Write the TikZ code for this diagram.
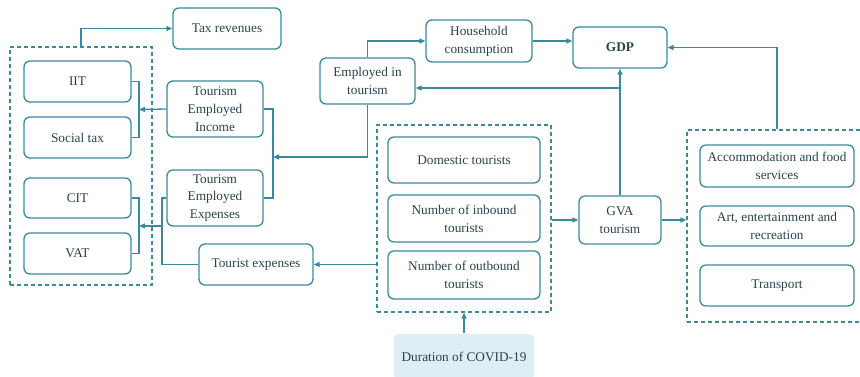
\documentclass[tikz,border=0pt]{standalone}
\usepackage{fontspec}
\setmainfont{Liberation Serif}
\usepackage{xcolor}
\usetikzlibrary{arrows.meta,positioning}
\definecolor{lineteal}{RGB}{58,138,158}
\definecolor{inkslate}{RGB}{40,66,76}
\definecolor{covidfill}{RGB}{221,238,244}

\begin{document}
\begin{tikzpicture}[x=1pt, y=-1pt,
  box/.style={draw=lineteal, line width=1.3pt, rounded corners=6pt, align=center,
              font=\fontsize{13.3}{17.8}\selectfont, text=inkslate, inner sep=2pt},
  grp/.style={draw=lineteal, line width=1.2pt, dash pattern=on 4pt off 3pt},
  line/.style={draw=lineteal, line width=1.3pt},
  arr/.style={line, -{Triangle[length=6pt,width=5pt]}}
]
  \useasboundingbox (0,0) rectangle (860,376);
  % taxes
  \node[grp, minimum width=142pt, minimum height=238pt] (lgrp) at (81,166) {};
  \node[box, minimum width=108pt, minimum height=41pt] (tax) at (227,28.5) {Tax revenues};
  \node[box, minimum width=107pt, minimum height=41pt] (iit) at (77.5,81.5) {IIT};
  \node[box, minimum width=107pt, minimum height=41pt] (soc) at (77.5,137.5) {Social tax};
  \node[box, minimum width=107pt, minimum height=40pt] (cit) at (77.5,198) {CIT};
  \node[box, minimum width=107pt, minimum height=41pt] (vat) at (77.5,253.5) {VAT};
  % employment and expenses
  \node[box, minimum width=96pt, minimum height=56pt] (tei) at (215,109) {Tourism\\Employed\\Income};
  \node[box, minimum width=96pt, minimum height=56pt] (tee) at (215,198) {Tourism\\Employed\\Expenses};
  \node[box, minimum width=114pt, minimum height=41pt] (texp) at (256,264.5) {Tourist expenses};
  \node[box, minimum width=95pt, minimum height=46pt] (eit) at (367.5,81) {Employed in\\tourism};
  \node[box, minimum width=106pt, minimum height=42pt] (hc) at (479,41) {Household\\consumption};
  \node[box, minimum width=94pt, minimum height=41pt, font=\fontsize{13.3}{17.8}\selectfont\bfseries] (gdp) at (620,47.5) {GDP};
  % tourist flows
  \node[grp, minimum width=174pt, minimum height=187pt] (mgrp) at (464,218.5) {};
  \node[box, minimum width=152pt, minimum height=46pt] (dom) at (464,160) {Domestic tourists};
  \node[box, minimum width=152pt, minimum height=47pt] (inb) at (464,218.5) {Number of inbound\\tourists};
  \node[box, minimum width=152pt, minimum height=48pt] (outb) at (464,275) {Number of outbound\\tourists};
  \node[box, draw=none, fill=covidfill, minimum width=140pt, minimum height=46pt] (covid) at (464,357) {Duration of COVID-19};
  \node[box, minimum width=82pt, minimum height=48pt] (gva) at (620,220) {GVA\\tourism};
  % sectors
  \node[grp, minimum width=190pt, minimum height=192pt] (rgrp) at (782,226) {};
  \node[box, minimum width=154pt, minimum height=42pt] (acc) at (777,166) {Accommodation and food\\services};
  \node[box, minimum width=154pt, minimum height=40pt] (art) at (777,226) {Art, entertainment and\\recreation};
  \node[box, minimum width=154pt, minimum height=41pt] (trn) at (777,285.5) {Transport};
  % bracket points
  \coordinate (b1) at (139,109.5);
  \coordinate (b2) at (139,226);
  \coordinate (b3) at (162,226);
  \coordinate (b4) at (273,157);
  \coordinate (j1) at (620,88);
  % connectors
  \draw[arr] (lgrp.north) |- (tax.west);
  \draw[line] (iit.east) -| (b1) |- (soc.east);
  \draw[line] (cit.east) -| (b2) |- (vat.east);
  \draw[arr] (tei.west) -- (b1);
  \draw[line] (tee.west) -| (b3) |- (texp.west);
  \draw[arr] (b3) -- (b2);
  \draw[line] (tei.east) -| (b4) |- (tee.east);
  \draw[arr] (eit.south) |- (b4);
  \draw[arr] (eit.north) |- (hc.west);
  \draw[arr] (hc.east) -- (hc.east -| gdp.west);
  \draw[arr] (gva.north) -- (gdp.south);
  \draw[arr] (j1) -- (j1 -| eit.east);
  \draw[arr] (acc.north |- rgrp.north) |- (gdp.east);
  \draw[arr] (mgrp.east |- gva.west) -- (gva.west);
  \draw[arr] (gva.east) -- (gva.east -| rgrp.west);
  \draw[arr] (mgrp.west |- texp.east) -- (texp.east);
  \draw[arr] (covid.north) -- (mgrp.south);
\end{tikzpicture}
\end{document}
